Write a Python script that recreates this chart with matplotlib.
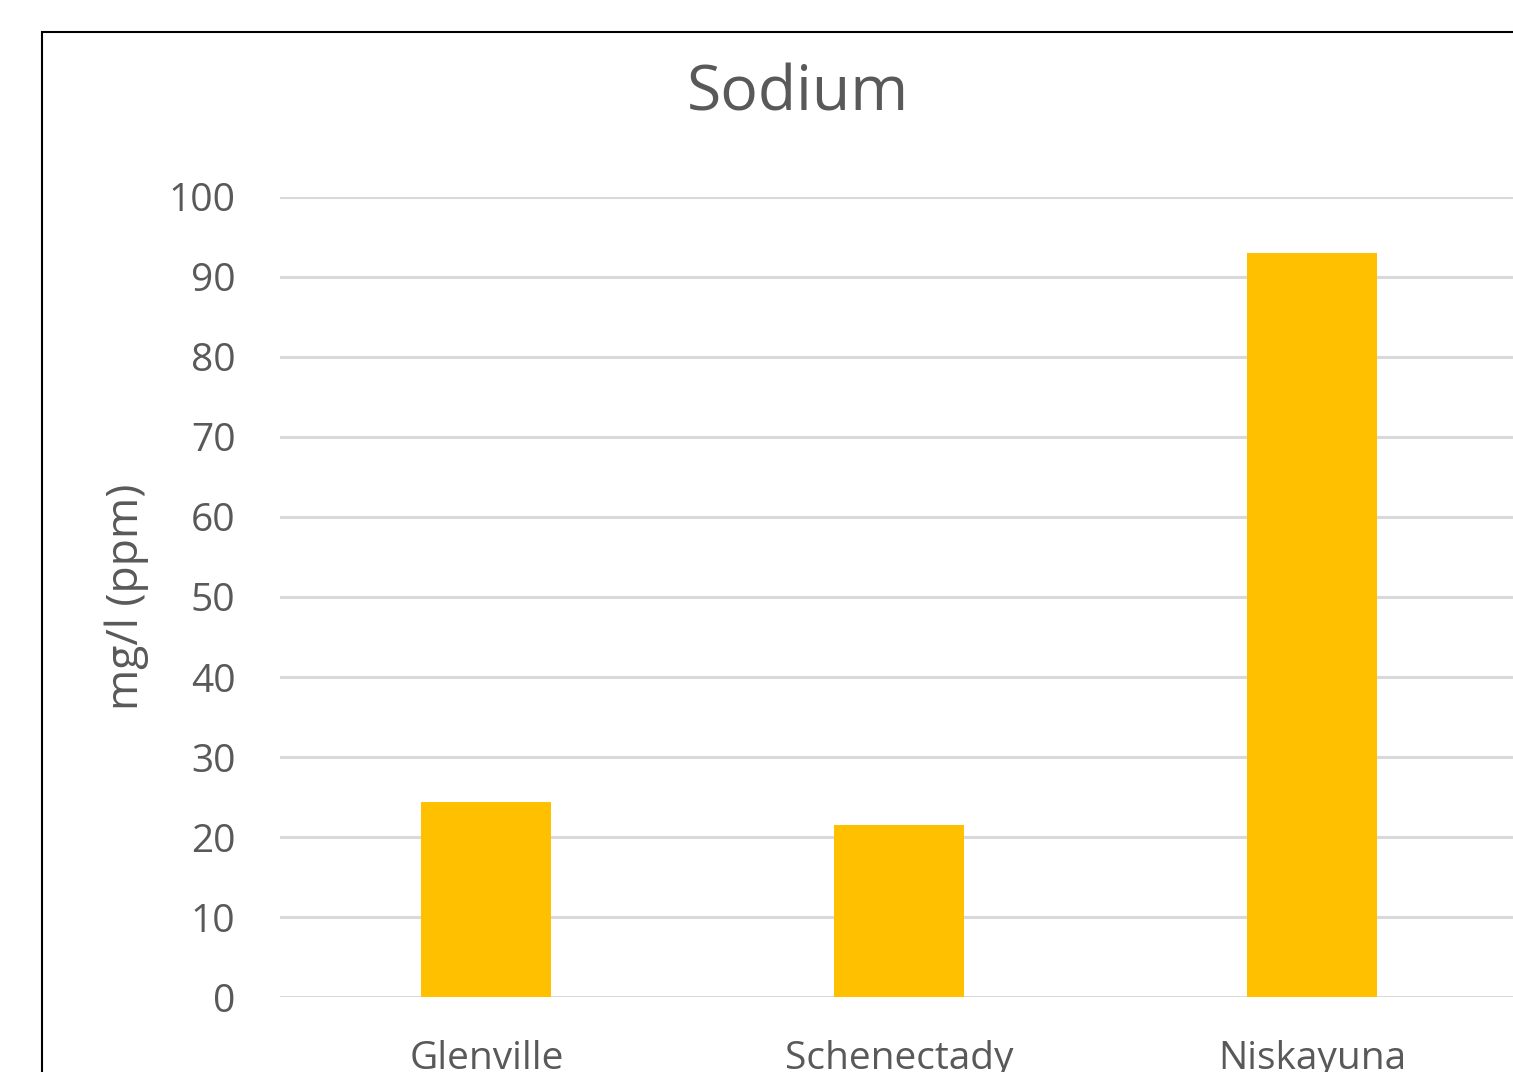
import matplotlib
matplotlib.use("Agg")
import matplotlib.pyplot as plt
from matplotlib.patches import Rectangle

categories = ["Glenville", "Schenectady", "Niskayuna"]
values = [24.4, 21.5, 93.0]
yticks = [0, 10, 20, 30, 40, 50, 60, 70, 80, 90, 100]

W, H = 1513, 1072
fig = plt.figure(figsize=(W / 100, H / 100), dpi=100)
fig.patch.set_facecolor("white")
plt.rcParams['font.family'] = ['Open Sans', 'DejaVu Sans']

# border of chart area (cropped on right/bottom)
fig.patches.append(Rectangle((42 / W, -0.1), 2.0, (1072 - 32) / H + 0.1,
                             transform=fig.transFigure, fill=False,
                             edgecolor="#000000", linewidth=1.5, clip_on=False))

ax_left, ax_right = 280, 1518.5
ax_bottom, ax_top = 997, 197
ax = fig.add_axes([ax_left / W, (H - ax_bottom) / H,
                   (ax_right - ax_left) / W, (ax_bottom - ax_top) / H])
ax.set_facecolor("none")
x = range(len(categories))
ax.bar(x, values, width=0.315, color="#FFC000", zorder=3)
ax.set_xlim(-0.5, 2.5)
ax.set_ylim(0, 100)
ax.set_yticks(yticks)
ax.set_yticklabels([str(t) for t in yticks])
ax.set_xticks(list(x))
ax.set_xticklabels(categories)
ax.grid(axis="y", color="#d9d9d9", linewidth=2.2, zorder=0)
ax.set_axisbelow(True)
for s in ax.spines.values():
    s.set_visible(False)
ax.tick_params(axis="both", length=0, colors="#595959", labelsize=28)
ax.tick_params(axis="y", pad=32)
ax.tick_params(axis="x", pad=31)
ax.set_ylabel("mg/l (ppm)", fontsize=32, color="#595959", labelpad=14)

fig.text(798 / W, 1 - 94 / H, "Sodium", ha="center", va="center",
         fontsize=45, color="#595959")

fig.savefig("out.png", dpi=100)
